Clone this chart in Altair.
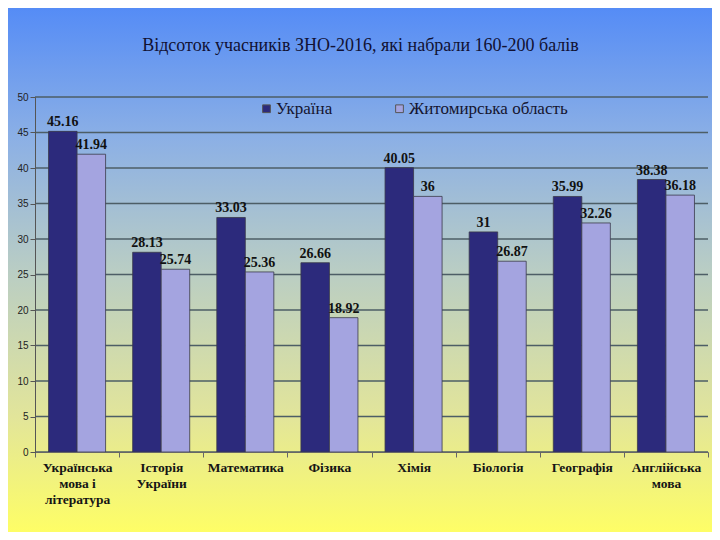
import altair as alt
import pandas as pd

categories = ["Українська|мова і|література", "Історія|України", "Математика", "Фізика",
              "Хімія", "Біологія", "Географія", "Англійська|мова"]
series = ["Україна", "Житомирська область"]
ukraine = [45.16, 28.13, 33.03, 26.66, 40.05, 31, 35.99, 38.38]
zhytomyr = [41.94, 25.74, 25.36, 18.92, 36, 26.87, 32.26, 36.18]
y_ticks = [0, 5, 10, 15, 20, 25, 30, 35, 40, 45, 50]
title_text = "Відсоток учасників ЗНО-2016, які набрали 160-200 балів"

rows = []
for c, u, z in zip(categories, ukraine, zhytomyr):
    rows.append({"cat": c, "series": series[0], "value": u})
    rows.append({"cat": c, "series": series[1], "value": z})
df = pd.DataFrame(rows)

W, H = 673, 355
PL, PT, PR, PB = 27, 89, 4, 80

grad = alt.Gradient(
    gradient="linear", x1=0, y1=0, x2=0, y2=1,
    stops=[
        alt.GradientStop(color="#558cf6", offset=0.0),
        alt.GradientStop(color="#8cb0e5", offset=0.25),
        alt.GradientStop(color="#b9cdc4", offset=0.5),
        alt.GradientStop(color="#e2e59a", offset=0.78),
        alt.GradientStop(color="#fefe66", offset=1.0),
    ],
)

bg = alt.Chart(pd.DataFrame({"k": [0]})).mark_rect(fill=grad, strokeWidth=0).encode(
    x=alt.value(-PL), x2=alt.value(W + PR), y=alt.value(-PT), y2=alt.value(H + PB)
)

yscale = alt.Scale(domain=[0, 50], nice=False, zero=True)
xscale = alt.Scale(paddingInner=0, paddingOuter=0)
xoff_scale = alt.Scale(paddingInner=0, paddingOuter=0.475)

xaxis = alt.Axis(
    title=None, labelAngle=0, tickBand="extent", tickSize=5, tickColor="#666",
    domainColor="#666", labelFont="Liberation Serif", labelFontWeight="bold",
    labelFontSize=13.5, labelColor="#151515", labelLineHeight=16, labelPadding=3,
    labelExpr="split(datum.label, '|')", zindex=1, grid=False, labelLimit=200,
)
yaxis = alt.Axis(
    title=None, values=y_ticks, grid=False, tickSize=5, tickColor="#555",
    domainColor="#555", labelFont="Liberation Sans", labelFontSize=10,
    labelColor="#222", labelPadding=2, zindex=1,
)

grid = alt.Chart(pd.DataFrame({"t": y_ticks})).mark_rule(color="#4d5e66", strokeWidth=1.5).encode(
    y=alt.Y("t:Q", scale=yscale, axis=yaxis),
    x=alt.value(0), x2=alt.value(W),
)

bars = alt.Chart(df).mark_bar(stroke="#3a3a4a", strokeWidth=0.8).encode(
    x=alt.X("cat:N", sort=categories, scale=xscale, axis=xaxis),
    xOffset=alt.XOffset("series:N", sort=series, scale=xoff_scale),
    y=alt.Y("value:Q", scale=yscale, axis=yaxis),
    color=alt.Color(
        "series:N",
        scale=alt.Scale(domain=series, range=["#2c2a7c", "#a4a4e0"]),
        legend=alt.Legend(
            title=None, orient="none", legendX=223, legendY=3, direction="horizontal",
            symbolType="square", symbolSize=60, symbolStrokeColor="#555",
            symbolStrokeWidth=1, labelFont="Liberation Serif", labelFontSize=17,
            labelColor="#151530", labelOffset=1, columnPadding=58, labelLimit=300,
        ),
    ),
)

labels = alt.Chart(df).mark_text(
    baseline="bottom", dy=-2, font="Liberation Serif", fontWeight="bold",
    fontSize=14, color="#111",
).encode(
    x=alt.X("cat:N", sort=categories, scale=xscale, axis=xaxis),
    xOffset=alt.XOffset("series:N", sort=series, scale=xoff_scale),
    y=alt.Y("value:Q", scale=yscale, axis=yaxis),
    text=alt.Text("value:Q", format=".4~g"),
)

chart = alt.layer(bg, grid, bars, labels).properties(
    width=W, height=H,
    padding={"left": PL, "top": PT, "right": PR, "bottom": PB},
    autosize=alt.AutoSizeParams(type="none"),
    title=alt.TitleParams(
        text=title_text, font="Liberation Serif", fontSize=18, fontWeight="normal",
        color="#111133", anchor="middle", dx=-11, offset=-61, baseline="alphabetic",
        zindex=1,
    ),
).configure(
    background="#ffffff",
).configure_view(stroke=None)

chart.save("out.html", embed_options={"renderer": "svg", "actions": False})
